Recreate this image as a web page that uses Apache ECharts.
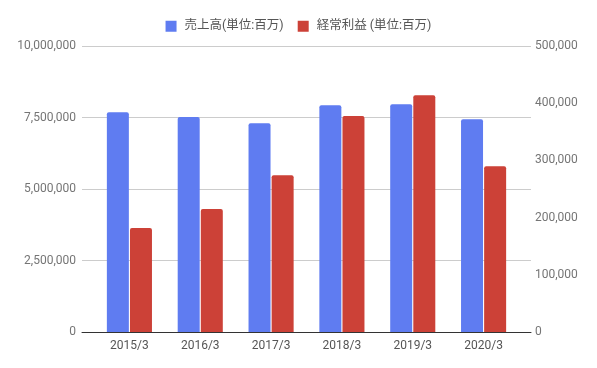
<!DOCTYPE html>
<html><head><meta charset="utf-8">
<script src="https://cdn.jsdelivr.net/npm/echarts@6/dist/echarts.min.js"></script>
<style>html,body{margin:0;padding:0;background:#fff}#c{width:597px;height:368px}</style>
</head><body><div id="c"></div>
<script>
const categories = ['2015/3','2016/3','2017/3','2018/3','2019/3','2020/3'];
const seriesNames = ['売上高(単位:百万)','経常利益 (単位:百万)'];
const sales = [7680000, 7520000, 7300000, 7930000, 7960000, 7440000];
const ordinaryProfit = [181800, 215000, 274000, 377600, 413800, 289700];
const leftTicks = {min: 0, max: 10000000, interval: 2500000};
const rightTicks = {min: 0, max: 500000, interval: 100000};

const FONT = 'Roboto, "Noto Sans CJK JP", sans-serif';
const fmt = v => Number(v).toLocaleString('en-US');
const chart = echarts.init(document.getElementById('c'), null, {renderer: 'canvas'});
chart.setOption({
  animation: false,
  textStyle: {fontFamily: FONT},
  legend: {
    top: 15, left: 'center', icon: 'rect', itemWidth: 11, itemHeight: 11, itemGap: 14,
    textStyle: {fontSize: 12.5, color: '#555', fontFamily: FONT, padding: [0, 0, 0, 3]},
    data: seriesNames
  },
  grid: [
    {left: 82, right: 66, top: 46, bottom: 36},
    {left: 94, right: 78, top: 46, bottom: 36}
  ],
  xAxis: [
    {gridIndex: 0, type: 'value', min: 0, max: 1, axisLine: {show: true, lineStyle: {color: '#333', width: 1}},
     axisTick: {show: false}, axisLabel: {show: false}, splitLine: {show: false}},
    {gridIndex: 1, type: 'category', data: categories, axisLine: {show: false}, axisTick: {show: false},
     axisLabel: {color: '#555', fontSize: 12, margin: 8, fontFamily: FONT}}
  ],
  yAxis: [
    {gridIndex: 0, type: 'value', position: 'left', min: leftTicks.min, max: leftTicks.max, interval: leftTicks.interval,
     axisLine: {show: false}, axisTick: {show: false},
     axisLabel: {color: '#757575', fontSize: 12, margin: 6, formatter: fmt, fontFamily: FONT},
     splitLine: {lineStyle: {color: '#cccccc', width: 1}}},
    {gridIndex: 0, type: 'value', position: 'right', min: rightTicks.min, max: rightTicks.max, interval: rightTicks.interval,
     axisLine: {show: false}, axisTick: {show: false},
     axisLabel: {color: '#757575', fontSize: 12, margin: 4, formatter: fmt, fontFamily: FONT},
     splitLine: {show: false}},
    {gridIndex: 1, type: 'value', min: leftTicks.min, max: leftTicks.max, show: false, splitLine: {show: false}},
    {gridIndex: 1, type: 'value', min: rightTicks.min, max: rightTicks.max, show: false, splitLine: {show: false}}
  ],
  series: [
    {name: seriesNames[0], type: 'bar', xAxisIndex: 1, yAxisIndex: 2, data: sales,
     barWidth: 22, barGap: '5%', itemStyle: {color: '#5f7cf1', borderRadius: [2,2,0,0]}},
    {name: seriesNames[1], type: 'bar', xAxisIndex: 1, yAxisIndex: 3, data: ordinaryProfit,
     barWidth: 22, barGap: '5%', itemStyle: {color: '#cc4137', borderRadius: [2,2,0,0]}}
  ]
});
</script></body></html>
